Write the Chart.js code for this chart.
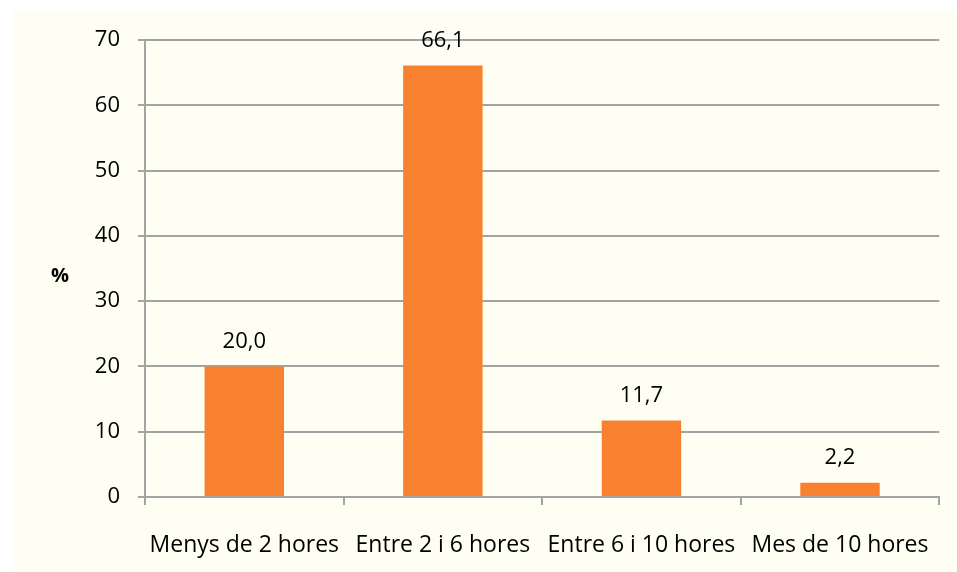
<!DOCTYPE html>
<html>
<head>
<meta charset="utf-8">
<script src="https://cdn.jsdelivr.net/npm/chart.js@4"></script>
<style>
    html, body { margin: 0; padding: 0; background: #ffffff; }
    #wrap { width: 957px; height: 572px; position: relative; }
</style>
</head>
<body>
<div id="wrap"><canvas id="chart"></canvas></div>
<script>
// chart data
const categories = ['Menys de 2 hores', 'Entre 2 i 6 hores', 'Entre 6 i 10 hores', 'Mes de 10 hores'];
const percentValues = [20.0, 66.1, 11.7, 2.2];
const yTicks = [0, 10, 20, 30, 40, 50, 60, 70];

const FONT = '"Open Sans", "Liberation Sans", sans-serif';
const ORANGE = '#F7812F';
const GRID = '#A3A3A3';

// cream panel, "%" label and value labels
const decorPlugin = {
    id: 'decor',
    beforeDraw(chart) {
        const ctx = chart.ctx;
        ctx.save();
        ctx.fillStyle = '#FFFEF2';
        ctx.fillRect(13, 10, chart.width - 13, chart.height - 10);
        ctx.restore();
    },
    afterDatasetsDraw(chart) {
        const ctx = chart.ctx;
        const meta = chart.getDatasetMeta(0);
        ctx.save();
        ctx.fillStyle = '#000000';
        ctx.textAlign = 'center';
        ctx.textBaseline = 'middle';
        ctx.font = '22px ' + FONT;
        meta.data.forEach((bar, i) => {
            const txt = percentValues[i].toFixed(1).replace('.', ',');
            ctx.fillText(txt, bar.x, bar.y - 25);
        });
        ctx.font = 'bold 20px ' + FONT;
        ctx.fillText('%', 60, 276);
        ctx.restore();
    }
};

new Chart(document.getElementById('chart'), {
    type: 'bar',
    data: {
        labels: categories,
        datasets: [{
            data: percentValues,
            backgroundColor: ORANGE,
            borderWidth: 0,
            categoryPercentage: 1,
            barPercentage: 0.4
        }]
    },
    options: {
        responsive: true,
        maintainAspectRatio: false,
        animation: false,
        devicePixelRatio: 1,
        layout: { padding: { top: 40, right: 12, left: 0, bottom: 0 } },
        plugins: {
            legend: { display: false },
            tooltip: { enabled: false }
        },
        scales: {
            x: {
                afterFit(scale) { scale.height = 75; },
                grid: {
                    offset: true,
                    drawOnChartArea: false,
                    drawTicks: true,
                    tickLength: 8,
                    color: GRID,
                    lineWidth: 2
                },
                border: { display: true, color: GRID, width: 2 },
                ticks: {
                    color: '#000000',
                    font: { family: FONT, size: 23 },
                    padding: 27,
                    maxRotation: 0
                }
            },
            y: {
                min: 0,
                max: 70,
                afterFit(scale) { scale.width = 145; },
                afterBuildTicks(scale) {
                    scale.ticks = yTicks.map(v => ({ value: v }));
                },
                grid: {
                    color: GRID,
                    lineWidth: 2,
                    drawTicks: true,
                    tickLength: 7
                },
                border: { display: true, color: GRID, width: 2 },
                ticks: {
                    color: '#000000',
                    font: { family: FONT, size: 22 },
                    padding: 18
                }
            }
        }
    },
    plugins: [decorPlugin]
});
</script>
</body>
</html>
